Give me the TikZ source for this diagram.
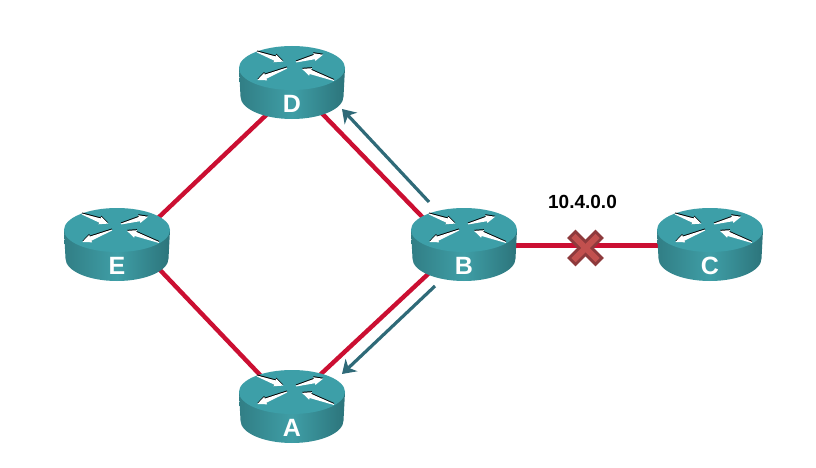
\documentclass[tikz,border=0pt]{standalone}
\usepackage{fontspec}
\setmainfont{Liberation Sans}
\usetikzlibrary{arrows.meta, backgrounds}
\definecolor{tealtop}{HTML}{3D9FA8}
\definecolor{tealmid}{HTML}{3F9EA6}
\definecolor{tealleft}{HTML}{317E85}
\definecolor{tealright}{HTML}{2C747B}
\definecolor{linkred}{HTML}{CB0F32}
\definecolor{flowteal}{HTML}{2F6A78}
\definecolor{crossdark}{HTML}{8E3A3C}
\definecolor{crosslight}{HTML}{C2504E}
\begin{document}
\begin{tikzpicture}[x=1pt, y=1pt,
    routernode/.style={inner sep=0pt, minimum width=106pt, text height=66.5pt, text depth=6.5pt, text=white, font=\bfseries\fontsize{25}{25}\selectfont},
    link/.style={draw=linkred, line width=4.4pt},
    flow/.style={draw=flowteal, line width=3.2pt, -{Stealth[inset=4pt, length=13pt, width=17pt]}},
    tagtext/.style={font=\bfseries\fontsize{19}{20}\selectfont},
    routerbody/.pic={
        \shade[left color=tealleft, right color=tealright, middle color=tealmid]
            (-53,14.5) -- (-51.5,-14) arc[start angle=180, end angle=360, x radius=51.5, y radius=22.5] -- (53,14.5) -- cycle;
        \fill[tealtop] (0,14.5) ellipse[x radius=53, y radius=22];
        % four arrows on the top
        \foreach \xa/\ya/\ang/\len in {-35/30.5/-20/28, 4/20.5/15/28, -5/14.5/202/32, 42/2/160/34} {
            \begin{scope}[shift={(\xa,\ya+1)}, rotate=\ang]
                \fill[black] (0,-0.5) -- (\len-9,-2.2) -- (\len-9,-4) -- (\len,0) -- (\len-9,4) -- (\len-9,2.2) -- (0,0.5) -- cycle;
            \end{scope}
            \begin{scope}[shift={(\xa,\ya)}, rotate=\ang]
                \fill[white] (0,-0.5) -- (\len-9,-2.2) -- (\len-9,-4) -- (\len,0) -- (\len-9,4) -- (\len-9,2.2) -- (0,0.5) -- cycle;
            \end{scope}
        }
    }]

\useasboundingbox (0,0) rectangle (816,467);

% Routers
\node[routernode] (D) at (292,384.5) {D};
\node[routernode] (E) at (117,222.5) {E};
\node[routernode] (B) at (464,222.5) {B};
\node[routernode] (C) at (710,222.5) {C};
\node[routernode] (A) at (292,60.5) {A};

\node[tagtext] (net) at (582.5,265) {10.4.0.0};
\coordinate (fault) at (585.5,219);

\begin{scope}[on background layer]
    % Links
    \draw[link] ([yshift=-8pt]D.center) -- ([yshift=-12.5pt]E.center);
    \draw[link] ([yshift=19.7pt]E.center) -- ([yshift=-2pt]A.center);
    \draw[link] (D.center) -- ([yshift=-15.5pt]B.center);
    \draw[link] ([yshift=4pt]B.center) -- ([yshift=5.5pt]A.center);
    \draw[link] ([yshift=-1pt]B.center) -- ([yshift=-1pt]C.center);

    % Routers on top of the links
    \foreach \name in {D,E,B,C,A}
        \pic at (\name.center) {routerbody};
\end{scope}

% Update going out from B
\draw[flow] ([shift={(-35pt,42.5pt)}]B.center) -- ([shift={(50pt,-26.5pt)}]D.center);
\draw[flow] ([shift={(-29pt,-41.5pt)}]B.center) -- ([shift={(50pt,32.5pt)}]A.center);

% Failed link
\foreach \ang in {45,135}
    \draw[crossdark, line width=12pt] ([shift={(\ang:20pt)}]fault) -- ([shift={(\ang+180:20pt)}]fault);
\foreach \ang in {45,135}
    \draw[crosslight, line width=6pt] ([shift={(\ang:17pt)}]fault) -- ([shift={(\ang+180:17pt)}]fault);

\end{tikzpicture}
\end{document}
